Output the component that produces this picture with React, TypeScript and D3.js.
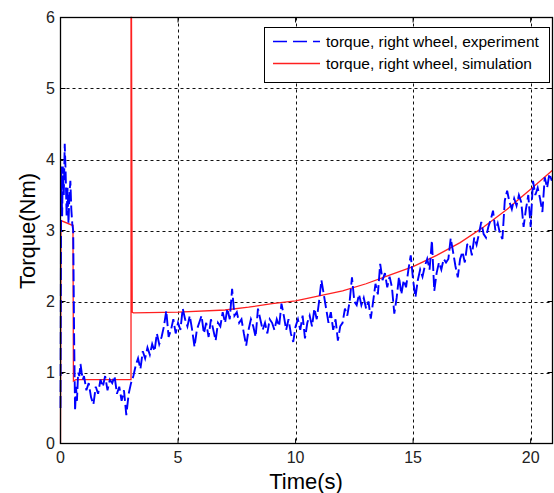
import React from "react";
import * as d3 from "d3";

const W = 554;
const H = 493;

const xTicks = [0, 5, 10, 15, 20];
const yTicks = [0, 1, 2, 3, 4, 5, 6];
const xMax = 20.93;

// experiment: start-up transient (explicit times)
const expEarlyT = [0.0, 0.03, 0.07, 0.1, 0.14, 0.18, 0.22, 0.26, 0.3, 0.34, 0.38, 0.42, 0.46, 0.5, 0.54, 0.58, 0.62, 0.66, 0.7, 0.75, 0.8, 0.85, 0.9, 0.95];
const expEarlyV = [0.5, 3.9, 3.2, 3.9, 3.5, 4.22, 3.8, 3.2, 3.6, 3.1, 3.5, 3.7, 3.3, 3.1, 3.0, 1.5, 0.46, 0.8, 0.6, 1.0, 0.95, 1.12, 1.0, 0.9];

// experiment: from t = 1.0 s every 0.1 s
const expStart = 1.0;
const expStep = 0.1;
const expV = [
  0.95, 0.75, 0.85, 0.65, 0.55, 0.8, 0.7, 0.9, 0.8, 0.95,
  0.75, 0.9, 0.85, 0.95, 0.7, 0.8, 0.6, 0.75, 0.4, 0.7,
  0.85, 0.95, 1.1, 1.2, 1.05, 1.3, 1.2, 1.35, 1.25, 1.4,
  1.3, 1.55, 1.4, 1.5, 1.65, 1.87, 1.5, 1.6, 1.75, 1.55,
  1.7, 1.6, 1.9, 1.75, 1.65, 1.8, 1.6, 1.36, 1.6, 1.7,
  1.8, 1.55, 1.7, 1.5, 1.75, 1.6, 1.45, 1.7, 1.65, 1.85,
  1.7, 1.9, 1.75, 2.18, 1.8, 1.85, 1.7, 1.75, 1.55, 1.38,
  1.6, 1.75, 1.65, 1.5, 1.9, 1.75, 1.6, 1.7, 1.55, 1.75,
  1.7, 1.6, 1.75, 1.65, 1.97, 1.8, 1.6, 1.75, 1.55, 1.43,
  1.65, 1.75, 1.6, 1.8, 1.48, 1.7, 1.8, 1.65, 1.9, 1.75,
  2.0, 2.3, 2.1, 1.9, 1.7, 1.85, 1.6, 1.75, 1.45, 1.65,
  1.7, 1.9, 1.8, 2.0, 2.34, 2.0, 1.95, 2.1, 1.95, 2.05,
  1.9, 2.0, 1.76, 2.0, 2.25, 2.1, 2.53, 2.3, 2.4, 2.2,
  2.35, 2.2, 1.83, 2.05, 2.35, 2.1, 2.3, 2.2, 2.45, 2.65,
  2.3, 2.06, 2.3, 2.45, 2.35, 2.5, 2.6, 2.45, 2.86, 2.15,
  2.4, 2.55, 2.45, 2.6, 2.55, 2.6, 2.89, 2.7, 2.5, 2.34,
  2.6, 2.7, 2.55, 2.8, 2.82, 2.65, 2.9, 2.8, 2.95, 3.12,
  2.95, 2.9, 3.05, 3.15, 3.28, 3.0, 3.1, 2.95, 2.88, 3.42,
  3.56, 3.4, 3.3, 3.45, 3.35, 3.5, 3.4, 3.05, 3.3, 3.5,
  3.05, 3.7, 3.5, 3.6, 3.45, 3.26, 3.75, 3.6, 3.8, 3.7,
];

// simulation
const simT = [0, 0.02, 0.53, 0.55, 0.65, 3.0, 3.0, 3.02, 3.05, 3.1, 5, 7, 8, 9, 10, 11, 12, 13, 14, 15, 16, 17, 18, 19, 20, 20.93];
const simV = [0, 3.14, 3.07, 0.88, 0.9, 0.9, 6.0, 6.0, 1.85, 1.84, 1.85, 1.88, 1.92, 1.97, 2.01, 2.08, 2.15, 2.25, 2.37, 2.49, 2.65, 2.83, 3.05, 3.3, 3.58, 3.85];

const legendLabels = ["torque, right wheel, experiment", "torque, right wheel, simulation"];

const FONT = "Liberation Sans, Arial, sans-serif";

export default function App() {
  const left = 60.5, right = 552.5, top = 17.5, bottom = 443.5;
  const x = d3.scaleLinear().domain([0, xMax]).range([left, right]);
  const y = d3.scaleLinear().domain([0, 6]).range([bottom, top]);

  const expData: [number, number][] = [
    ...expEarlyT.map((t, i) => [t, expEarlyV[i]] as [number, number]),
    ...expV.map((v, i) => [expStart + i * expStep, v] as [number, number]),
  ];
  const simData: [number, number][] = simT.map((t, i) => [t, simV[i]]);

  const line = d3
    .line<[number, number]>()
    .x((d) => x(Math.min(d[0], xMax)))
    .y((d) => y(d[1]));

  return (
    <svg width={W} height={H} style={{ position: "absolute", left: 0, top: 0, background: "#fff" }}>
      <rect x={0} y={0} width={W} height={H} fill="#fff" />
      {/* grid */}
      {xTicks.filter((t) => t > 0).map((t) => (
        <line key={"gx" + t} x1={Math.round(x(t)) + 0.5} x2={Math.round(x(t)) + 0.5} y1={top} y2={bottom} stroke="#111" strokeWidth={1} strokeDasharray="3,3" />
      ))}
      {yTicks.filter((t) => t > 0 && t < 6).map((t) => (
        <line key={"gy" + t} x1={left} x2={right} y1={Math.round(y(t)) + 0.5} y2={Math.round(y(t)) + 0.5} stroke="#111" strokeWidth={1} strokeDasharray="3,3" />
      ))}
      {/* ticks inside */}
      {xTicks.map((t) => (
        <g key={"tx" + t}>
          <line x1={x(t)} x2={x(t)} y1={bottom} y2={bottom - 5} stroke="#000" />
          <line x1={x(t)} x2={x(t)} y1={top} y2={top + 5} stroke="#000" />
        </g>
      ))}
      {yTicks.map((t) => (
        <g key={"ty" + t}>
          <line x1={left} x2={left + 5} y1={y(t)} y2={y(t)} stroke="#000" />
          <line x1={right} x2={right - 5} y1={y(t)} y2={y(t)} stroke="#000" />
        </g>
      ))}
      {/* data */}
      <path d={line(simData) || ""} fill="none" stroke="#ff2020" strokeWidth={1.3} />
      <path d={line(expData) || ""} fill="none" stroke="#0000ff" strokeWidth={1.9} strokeDasharray="12,4" />
      {/* box */}
      <rect x={left} y={top} width={right - left} height={bottom - top} fill="none" stroke="#000" strokeWidth={1.3} />
      {/* tick labels */}
      {xTicks.map((t) => (
        <text key={"lx" + t} x={x(t)} y={463} textAnchor="middle" fontFamily={FONT} fontSize={16} fill="#222">
          {t}
        </text>
      ))}
      {yTicks.map((t) => (
        <text key={"ly" + t} x={55} y={y(t) + 5.5} textAnchor="end" fontFamily={FONT} fontSize={16} fill="#222">
          {t}
        </text>
      ))}
      {/* axis labels */}
      <text x={306} y={489} textAnchor="middle" fontFamily={FONT} fontSize={22} fill="#000">
        Time(s)
      </text>
      <text transform="translate(35,231) rotate(-90)" textAnchor="middle" fontFamily={FONT} fontSize={22} fill="#000">
        Torque(Nm)
      </text>
      {/* legend */}
      <rect x={264.5} y={27.5} width={285} height={55} fill="#fff" stroke="#000" strokeWidth={1} />
      <line x1={273} x2={320} y1={41.5} y2={41.5} stroke="#0000ff" strokeWidth={1.3} strokeDasharray="14,6" />
      <line x1={273} x2={320} y1={63.5} y2={63.5} stroke="#ff2020" strokeWidth={1.3} />
      {legendLabels.map((l, i) => (
        <text key={l} x={326} y={47 + i * 22} fontFamily={FONT} fontSize={15.5} fill="#000">
          {l}
        </text>
      ))}
    </svg>
  );
}
